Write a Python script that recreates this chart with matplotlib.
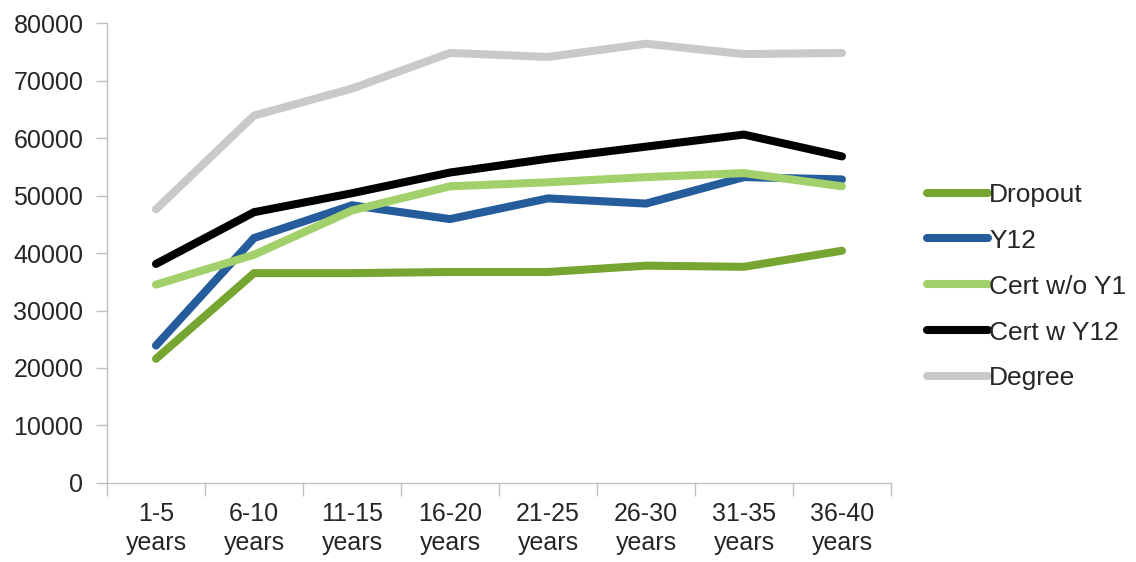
import numpy as np
import matplotlib
matplotlib.use("Agg")
import matplotlib.pyplot as plt

plt.rcParams['font.family'] = ['Liberation Sans', 'DejaVu Sans']

# Data
categories = ["1-5\nyears", "6-10\nyears", "11-15\nyears", "16-20\nyears",
              "21-25\nyears", "26-30\nyears", "31-35\nyears", "36-40\nyears"]
dropout = [21600, 36500, 36500, 36700, 36700, 37800, 37600, 40400]
y12 = [23900, 42600, 48300, 45900, 49500, 48600, 53200, 52800]
cert_wo_y12 = [34500, 39700, 47400, 51600, 52300, 53200, 53900, 51600]
cert_w_y12 = [38100, 47100, 50400, 54000, 56400, 58500, 60600, 56800]
degree = [47600, 63900, 68600, 74800, 74100, 76400, 74600, 74800]

series = [
    ("Dropout", dropout, "#76A531"),
    ("Y12", y12, "#255C9C"),
    ("Cert w/o Y1", cert_wo_y12, "#A2D06B"),
    ("Cert w Y12", cert_w_y12, "#000000"),
    ("Degree", degree, "#C9C9C9"),
]

fig = plt.figure(figsize=(11.36, 5.62), dpi=100)
ax = fig.add_axes([0.0942, 0.1406, 0.6901, 0.8184])

x = np.arange(len(categories))
for name, vals, col in series:
    ax.plot(x, vals, color=col, lw=5.8, solid_capstyle='round',
            solid_joinstyle='miter', label=name)

ax.set_xlim(-0.5, len(categories) - 0.5)
ax.set_ylim(0, 80000)
ax.set_yticks(np.arange(0, 80001, 10000))
ax.set_xticks(x)
ax.set_xticklabels(categories, linespacing=1.25)
ax.set_xticks(np.arange(-0.5, len(categories), 1), minor=True)
ax.tick_params(axis='x', which='major', length=0, pad=14)
ax.tick_params(axis='x', which='minor', length=9, color='#BFBFBF', width=1)
ax.tick_params(axis='y', length=8, color='#BFBFBF', width=1, pad=9)
ax.tick_params(labelsize=18, labelcolor='#262626')

for side in ['top', 'right']:
    ax.spines[side].set_visible(False)
for side in ['left', 'bottom']:
    ax.spines[side].set_color('#BFBFBF')
    ax.spines[side].set_linewidth(1)

leg = ax.legend(loc='center left', bbox_to_anchor=(0.807, 0.49),
                bbox_transform=fig.transFigure, frameon=False,
                fontsize=19, handlelength=2.3, handletextpad=0.05,
                labelspacing=0.83, borderaxespad=0)
for t in leg.get_texts():
    t.set_color('#262626')

fig.savefig("out.png", dpi=100)
